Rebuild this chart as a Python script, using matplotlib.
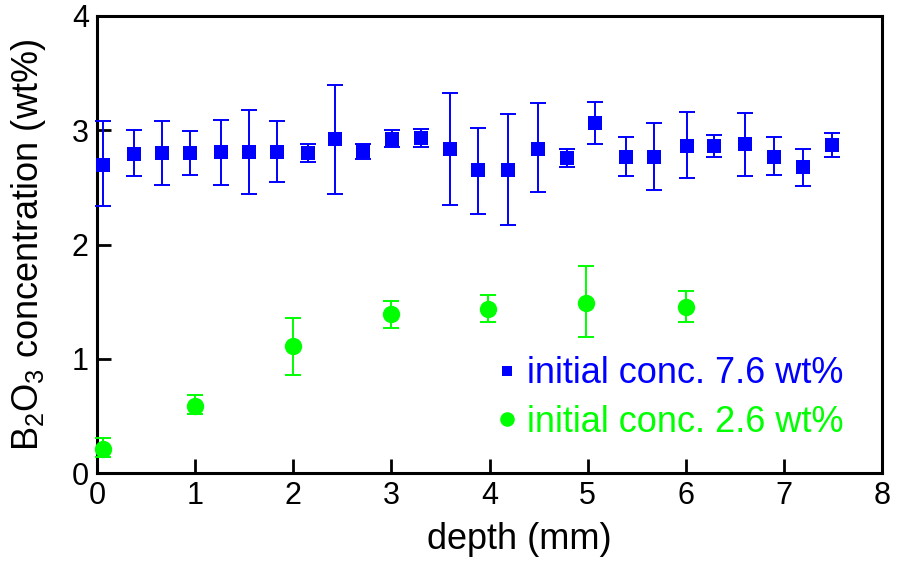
import matplotlib
matplotlib.use("Agg")
import matplotlib.pyplot as plt
from matplotlib.lines import Line2D

plt.rcParams['font.family'] = ['Liberation Sans', 'DejaVu Sans']
plt.rcParams['mathtext.fontset'] = 'custom'
plt.rcParams['mathtext.rm'] = 'Liberation Sans'
plt.rcParams['mathtext.default'] = 'regular'

# Series 1: initial conc. 7.6 wt%
depth_a = [0.065, 0.38, 0.66, 0.95, 1.26, 1.55, 1.835, 2.15, 2.42, 2.71, 3.01, 3.30, 3.60,
           3.88, 4.19, 4.49, 4.79, 5.08, 5.39, 5.68, 6.01, 6.29, 6.60, 6.90, 7.20, 7.49]
conc_a = [2.70, 2.79, 2.80, 2.80, 2.81, 2.81, 2.81, 2.80, 2.92, 2.82, 2.92, 2.93, 2.84,
          2.65, 2.65, 2.84, 2.76, 3.06, 2.77, 2.77, 2.86, 2.86, 2.88, 2.77, 2.68, 2.87]
upper_a = [3.08, 3.00, 3.08, 2.99, 3.09, 3.18, 3.08, 2.88, 3.40, 2.88, 3.00, 3.01, 3.33,
           3.02, 3.14, 3.24, 2.84, 3.25, 2.94, 3.06, 3.16, 2.96, 3.15, 2.94, 2.84, 2.98]
lower_a = [2.34, 2.60, 2.52, 2.61, 2.52, 2.44, 2.55, 2.72, 2.44, 2.75, 2.85, 2.85, 2.35,
           2.27, 2.17, 2.46, 2.68, 2.88, 2.60, 2.48, 2.58, 2.77, 2.60, 2.61, 2.51, 2.77]

# Series 2: initial conc. 2.6 wt%
depth_b = [0.065, 1.0, 2.0, 3.0, 3.98, 4.98, 6.0]
conc_b = [0.21, 0.59, 1.11, 1.39, 1.44, 1.49, 1.45]
upper_b = [0.31, 0.68, 1.36, 1.51, 1.56, 1.81, 1.59]
lower_b = [0.14, 0.52, 0.86, 1.27, 1.32, 1.19, 1.32]

labels = ['initial conc. 7.6 wt%', 'initial conc. 2.6 wt%']
x_ticks = [0, 1, 2, 3, 4, 5, 6, 7, 8]
y_ticks = [0, 1, 2, 3, 4]

blue = '#0000ff'
green = '#00ff00'

fig = plt.figure(figsize=(8.99, 5.70), dpi=100)
ax = fig.add_axes([0.108, 0.170, 0.873, 0.802])

err_a = [[c - l for c, l in zip(conc_a, lower_a)], [u - c for c, u in zip(conc_a, upper_a)]]
err_b = [[c - l for c, l in zip(conc_b, lower_b)], [u - c for c, u in zip(conc_b, upper_b)]]

ax.errorbar(depth_a, conc_a, yerr=err_a, fmt='none', ecolor=blue,
            elinewidth=1.4, capsize=5.8, capthick=1.4, clip_on=False, zorder=3)
ax.plot(depth_a, conc_a, ls='none', marker='s', color=blue, ms=9.5, mew=0,
        clip_on=False, zorder=4)
ax.errorbar(depth_b, conc_b, yerr=err_b, fmt='none', ecolor=green,
            elinewidth=1.4, capsize=5.8, capthick=1.4, clip_on=False, zorder=3)
ax.plot(depth_b, conc_b, ls='none', marker='o', color=green, ms=12.5, mew=0,
        clip_on=False, zorder=4)

ax.set_xlim(0, 8)
ax.set_ylim(0, 4)
ax.set_xticks(x_ticks)
ax.set_yticks(y_ticks)
ax.tick_params(direction='in', length=10, width=2, labelsize=22, pad=6)
for s in ax.spines.values():
    s.set_linewidth(2.2)

ax.set_xlabel('depth (mm)', fontsize=26)
ax.xaxis.set_label_coords(0.5375, -0.108)
ax.set_ylabel('B$_2$O$_3$ concentration (wt%)', fontsize=26, labelpad=17)

handles = [Line2D([], [], ls='none', marker='s', color=blue, ms=7.5, mew=0),
           Line2D([], [], ls='none', marker='o', color=green, ms=10.5, mew=0)]
leg = ax.legend(handles, labels, loc='upper left', bbox_to_anchor=(0.49, 0.287),
                frameon=False, fontsize=26, handlelength=0.6, handletextpad=0.25,
                labelspacing=0.38, borderaxespad=0)
for t, c in zip(leg.get_texts(), [blue, green]):
    t.set_color(c)

fig.savefig('out.png', dpi=100)
